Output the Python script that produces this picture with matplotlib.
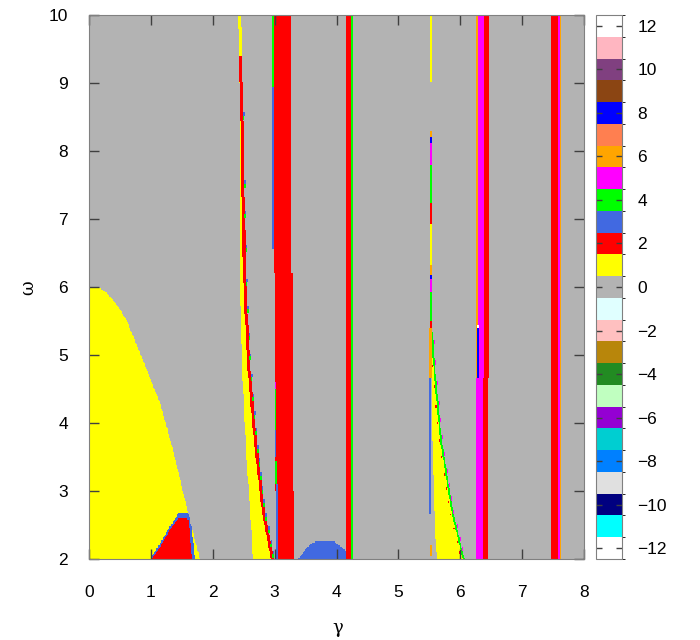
import numpy as np
import matplotlib
matplotlib.use('Agg')
import matplotlib.pyplot as plt
from matplotlib.colors import ListedColormap, BoundaryNorm

plt.rcParams['font.family'] = ['Liberation Sans', 'DejaVu Sans']

# colour table for the integer levels -12 .. 12
levels = list(range(-12, 13))
level_colors = ['#ffffff', '#00ffff', '#000080', '#e0e0e0', '#0080ff', '#00ced1',
                '#9400d3', '#c0ffc0', '#228b22', '#b8860b', '#ffc0c0', '#e0ffff',
                '#b3b3b3',
                '#ffff00', '#ff0000', '#4169e1', '#00ff00', '#ff00ff', '#ffa500',
                '#ff7f50', '#0000ff', '#8b4513', '#804080', '#ffb6c1', '#ffffff']
cbar_ticks = list(range(-12, 13, 2))

# yellow lobe at lower left (level 1): right edge gamma vs omega
lobe_w = [2.0, 2.76, 3.60, 4.29, 4.93, 5.51, 5.67, 5.80, 5.92, 5.98, 6.00]
lobe_g = [1.79, 1.58, 1.36, 1.15, 0.87, 0.61, 0.50, 0.40, 0.28, 0.18, 0.05]

# blue cap (level 3) and red dome (level 2) inside the lobe
cap_w = [2.0, 2.20, 2.45, 2.60, 2.68]
cap_left = [0.99, 1.13, 1.29, 1.40, 1.44]
cap_right = [1.71, 1.69, 1.66, 1.63, 1.60]
dome_w = [2.0, 2.18, 2.43, 2.57, 2.61]
dome_left = [1.01, 1.15, 1.31, 1.42, 1.46]
dome_right = [1.66, 1.65, 1.63, 1.61, 1.58]

# first slanted yellow band (level 1) with red edge (level 2)
band1_lw = [2.0, 2.67, 3.52, 4.72, 5.87, 8.80, 10.0]
band1_left = [2.65, 2.61, 2.54, 2.48, 2.44, 2.44, 2.41]
band1_rw = [2.0, 2.72, 3.77, 4.82, 5.87, 7.03, 9.30, 10.0]
band1_right = [2.99, 2.84, 2.71, 2.61, 2.55, 2.52, 2.48, 2.46]
band1_red_top = 9.4
band1_specks = [8.55, 7.55, 7.1, 6.6, 6.1, 5.7, 5.3, 5.0, 4.7, 4.4, 4.15,
                3.9, 3.65, 3.45, 3.25, 3.05, 2.85, 2.65, 2.45, 2.25, 2.1]

# thick red column near gamma = 3 and the thin lines beside it
# (gamma from, gamma to, omega from, omega to, level)
column3 = [(2.99, 3.26, 6.2, 10.0, 2), (3.01, 3.29, 3.0, 6.2, 2), (3.05, 3.31, 2.0, 3.0, 2),
           (2.96, 2.99, 8.94, 10.0, 4), (2.96, 2.99, 6.56, 8.94, 3),
           (3.00, 3.03, 4.50, 4.60, 5), (3.00, 3.03, 3.90, 4.50, 4), (3.00, 3.03, 3.50, 3.90, 3),
           (3.01, 3.04, 3.10, 3.45, 4), (3.02, 3.05, 2.00, 3.10, 3)]

# blue hill at the bottom (level 3)
hill_lw = [2.0, 2.03, 2.13, 2.21, 2.25]
hill_lg = [3.36, 3.41, 3.49, 3.57, 3.65]
hill_rw = [2.0, 2.03, 2.11, 2.18, 2.25]
hill_rg = [4.23, 4.22, 4.16, 4.08, 3.97]

# red/green line near gamma = 4.2
line42 = [(4.15, 4.23, 2.0, 10.0, 2), (4.23, 4.27, 2.0, 10.0, 4)]

# thin multicoloured line near gamma = 5.5
line55_lo = [9.02, 8.20, 8.13, 7.81, 7.24, 6.93, 6.32, 6.19, 6.13, 5.93, 5.50, 5.40, 2.05]
line55_hi = [10.0, 8.31, 8.20, 8.13, 7.81, 7.24, 6.93, 6.32, 6.19, 6.13, 5.93, 5.50, 2.20]
line55_lev = [1, 6, 8, 5, 4, 2, 1, 6, 8, 5, 4, 2, 6]

# second slanted yellow band with green edge
band2_lw = [2.0, 3.0, 4.0, 5.4]
band2_left = [5.62, 5.57, 5.55, 5.54]
band2_rw = [2.0, 2.67, 3.77, 4.66, 5.4]
band2_right = [6.07, 5.89, 5.70, 5.61, 5.55]
band2_specks = [5.2, 4.9, 4.6, 4.3, 4.05, 3.8, 3.55, 3.3, 3.1, 2.9, 2.7, 2.5, 2.3, 2.15]
band2_side = [(5.50, 5.52, 2.67, 4.66, 3), (5.50, 5.54, 4.66, 5.40, 6)]

# magenta/red column near gamma = 6.3
column63 = [(6.26, 6.28, 4.66, 10.0, 6), (6.28, 6.38, 4.66, 10.0, 5), (6.38, 6.47, 4.66, 10.0, 2),
            (6.25, 6.36, 2.0, 4.66, 5), (6.36, 6.45, 2.0, 4.66, 2),
            (6.27, 6.30, 4.66, 5.41, 8), (6.27, 6.30, 5.41, 5.45, 12)]

# red column near gamma = 7.5
column75 = [(7.47, 7.58, 2.0, 10.0, 2), (7.58, 7.61, 2.0, 10.0, 5), (7.61, 7.63, 2.0, 10.0, 6)]

# ---- build the level map on a gamma/omega grid
gam = np.arange(0, 8, 0.01) + 0.005
om = np.arange(2, 10, 0.02) + 0.01
G, W = np.meshgrid(gam, om)
Z = np.zeros_like(G)


def fill_strips(strips):
    for g0, g1, w0, w1, lev in strips:
        Z[(G >= g0) & (G < g1) & (W >= w0) & (W < w1)] = lev


def fill_between(lw, lg, rw, rg, top, lev, bottom=2.0):
    left = np.interp(W, lw, lg)
    right = np.interp(W, rw, rg)
    mask = (W >= bottom) & (W <= top) & (G >= left) & (G < right)
    Z[mask] = lev
    return right


# lobe, cap, dome
Z[(W <= lobe_w[-1]) & (G < np.interp(W, lobe_w, lobe_g))] = 1
fill_between(cap_w, cap_left, cap_w, cap_right, cap_w[-1], 3)
fill_between(dome_w, dome_left, dome_w, dome_right, dome_w[-1], 2)

# band 1
r1 = fill_between(band1_lw, band1_left, band1_rw, band1_right, 10.0, 1)
Z[(W < band1_red_top) & (G >= r1 - 0.05) & (G < r1)] = 2
for s in band1_specks:
    edge = np.interp(s, band1_rw, band1_right)
    Z[(np.abs(W - s) < 0.025) & (G >= edge) & (G < edge + 0.025)] = 3
    Z[(W < s - 0.025) & (W > s - 0.08) & (G >= edge - 0.005) & (G < edge + 0.02)] = 4

fill_strips(column3)
fill_between(hill_lw, hill_lg, hill_rw, hill_rg, hill_lw[-1], 3)
fill_strips(line42)

for lo, hi, lev in zip(line55_lo, line55_hi, line55_lev):
    Z[(G >= 5.51) & (G < 5.54) & (W >= lo) & (W < hi)] = lev

# band 2
r2 = fill_between(band2_lw, band2_left, band2_rw, band2_right, 5.4, 1)
Z[(W < 5.4) & (G >= r2 - 0.03) & (G < r2)] = 4
for s in band2_specks:
    edge = np.interp(s, band2_rw, band2_right)
    Z[(np.abs(W - s) < 0.03) & (G >= edge) & (G < edge + 0.02)] = 5
    Z[(W < s - 0.03) & (W > s - 0.07) & (G >= edge - 0.05) & (G < edge - 0.03)] = 2
fill_strips(band2_side)

fill_strips(column63)
fill_strips(column75)

# ---- draw
cmap = ListedColormap(level_colors)
norm = BoundaryNorm(np.arange(-12.5, 13.5, 1), cmap.N)

fig = plt.figure(figsize=(7, 6.4), dpi=100)
ax = fig.add_axes([89 / 700, 81 / 640, 495 / 700, 544 / 640])
cax = fig.add_axes([596 / 700, 81 / 640, 26 / 700, 544 / 640])

im = ax.imshow(Z, origin='lower', extent=[0, 8, 2, 10], aspect='auto',
               cmap=cmap, norm=norm, interpolation='nearest')
ax.set_xlim(0, 8)
ax.set_ylim(2, 10)
ax.set_xticks(range(0, 9))
ax.set_yticks(range(2, 11))
ax.tick_params(direction='in', length=7, width=1, color='#404040',
               top=True, right=True, labelsize=12.5)
ax.tick_params(axis='x', pad=19)
ax.tick_params(axis='y', pad=15)
for sp in ax.spines.values():
    sp.set_color('#808080')

cb = fig.colorbar(im, cax=cax, ticks=cbar_ticks)
cb.outline.set_edgecolor('#808080')
cax.tick_params(direction='in', length=4, width=1, color='#404040',
                left=True, right=True, labelsize=12.5, pad=11)

fig.text(338 / 700, 1 - 628 / 640, 'γ', ha='center', va='center', fontsize=13,
         family=['DejaVu Serif'])
fig.text(28 / 700, 1 - 288 / 640, 'ω', ha='center', va='center', fontsize=13,
         rotation=90, family=['DejaVu Serif'])

fig.savefig('out.png', dpi=100)
